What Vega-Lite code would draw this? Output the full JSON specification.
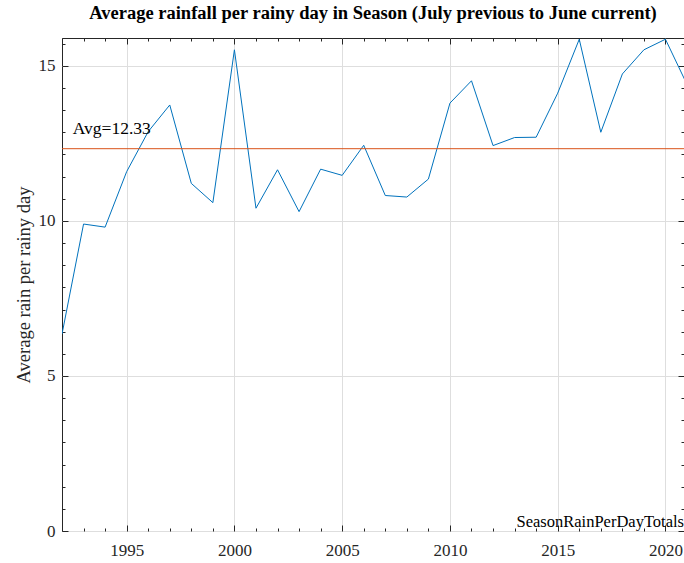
{
  "$schema": "https://vega.github.io/schema/vega-lite/v6.json",
  "autosize": "none",
  "width": 622,
  "height": 493,
  "padding": {"left": 62, "top": 38, "right": 0, "bottom": 32},
  "background": "white",
  "view": {"stroke": "#262626", "strokeWidth": 1},
  "config": {
    "font": "Liberation Serif",
    "axis": {"labelFont": "Liberation Serif", "titleFont": "Liberation Serif", "labelColor": "#262626", "titleColor": "#262626", "titleFontWeight": "normal"}
  },
  "title": {"text": "Average rainfall per rainy day in Season (July previous to June current)", "font": "Liberation Serif", "fontSize": 18.5, "fontWeight": "bold", "color": "#000000", "anchor": "middle", "offset": 12},
  "data": {"values": [
    {"year": 1992, "rain": 6.35},
    {"year": 1993, "rain": 9.90},
    {"year": 1994, "rain": 9.80},
    {"year": 1995, "rain": 11.59},
    {"year": 1996, "rain": 12.88},
    {"year": 1997, "rain": 13.74},
    {"year": 1998, "rain": 11.21},
    {"year": 1999, "rain": 10.59},
    {"year": 2000, "rain": 15.52},
    {"year": 2001, "rain": 10.41},
    {"year": 2002, "rain": 11.65},
    {"year": 2003, "rain": 10.30},
    {"year": 2004, "rain": 11.67},
    {"year": 2005, "rain": 11.47},
    {"year": 2006, "rain": 12.44},
    {"year": 2007, "rain": 10.82},
    {"year": 2008, "rain": 10.77},
    {"year": 2009, "rain": 11.35},
    {"year": 2010, "rain": 13.80},
    {"year": 2011, "rain": 14.52},
    {"year": 2012, "rain": 12.43},
    {"year": 2013, "rain": 12.69},
    {"year": 2014, "rain": 12.70},
    {"year": 2015, "rain": 14.12},
    {"year": 2016, "rain": 15.86},
    {"year": 2017, "rain": 12.86},
    {"year": 2018, "rain": 14.74},
    {"year": 2019, "rain": 15.52},
    {"year": 2020, "rain": 15.86},
    {"year": 2021, "rain": 14.40}
  ]},
  "resolve": {"axis": {"x": "independent", "y": "independent"}},
  "layer": [
    {
      "mark": {"type": "line", "color": "#0072BD", "strokeWidth": 1, "clip": true},
      "encoding": {
        "x": {"field": "year", "type": "quantitative",
          "scale": {"domain": [1992, 2020.86], "nice": false, "zero": false},
          "axis": {"orient": "bottom", "title": null, "domain": false,
            "values": [1992,1993,1994,1995,1996,1997,1998,1999,2000,2001,2002,2003,2004,2005,2006,2007,2008,2009,2010,2011,2012,2013,2014,2015,2016,2017,2018,2019,2020],
            "labelExpr": "datum.value % 5 === 0 ? datum.label : ''",
            "format": "d", "labelFontSize": 17, "labelPadding": 17, "labelFlush": false, "labelOverlap": false,
            "tickColor": "#262626", "tickWidth": 1,
            "tickSize": {"condition": {"test": "datum.value % 5 === 0", "value": -6}, "value": -3},
            "gridColor": "#dedede", "gridWidth": 1,
            "gridOpacity": {"condition": {"test": "datum.value % 5 === 0", "value": 1}, "value": 0}}},
        "y": {"field": "rain", "type": "quantitative",
          "scale": {"domain": [0, 15.9], "nice": false},
          "axis": {"orient": "left", "title": "Average rain per rainy day", "titleFontSize": 18.5, "titlePadding": 5, "domain": false,
            "values": [0, 0.7143, 1.4286, 2.1429, 2.8571, 3.5714, 4.2857, 5, 5.7143, 6.4286, 7.1429, 7.8571, 8.5714, 9.2857, 10, 10.7143, 11.4286, 12.1429, 12.8571, 13.5714, 14.2857, 15, 15.7143],
            "labelExpr": "datum.value % 5 === 0 ? format(datum.value, 'd') : ''",
            "labelFontSize": 17, "labelPadding": 13, "labelOverlap": false,
            "tickColor": "#262626", "tickWidth": 1,
            "tickSize": {"condition": {"test": "datum.value % 5 === 0", "value": -6}, "value": -3},
            "gridColor": "#dedede", "gridWidth": 1,
            "gridOpacity": {"condition": {"test": "datum.value % 5 === 0", "value": 1}, "value": 0}}}
      }
    },
    {
      "data": {"values": [{"avg": 12.33}]},
      "mark": {"type": "rule", "color": "#D95319", "strokeWidth": 1},
      "encoding": {
        "x": {"datum": 1992, "type": "quantitative",
          "axis": {"orient": "top", "title": null, "domain": false, "labels": false, "grid": false,
            "values": [1992,1993,1994,1995,1996,1997,1998,1999,2000,2001,2002,2003,2004,2005,2006,2007,2008,2009,2010,2011,2012,2013,2014,2015,2016,2017,2018,2019,2020],
            "tickColor": "#262626", "tickWidth": 1,
            "tickSize": {"condition": {"test": "datum.value % 5 === 0", "value": -6}, "value": -3}}},
        "x2": {"datum": 2020.86},
        "y": {"field": "avg", "type": "quantitative",
          "axis": {"orient": "right", "title": null, "domain": false, "labels": false, "grid": false,
            "values": [0, 0.7143, 1.4286, 2.1429, 2.8571, 3.5714, 4.2857, 5, 5.7143, 6.4286, 7.1429, 7.8571, 8.5714, 9.2857, 10, 10.7143, 11.4286, 12.1429, 12.8571, 13.5714, 14.2857, 15, 15.7143],
            "tickColor": "#262626", "tickWidth": 1,
            "tickSize": {"condition": {"test": "datum.value % 5 === 0", "value": -6}, "value": -3}}}
      }
    },
    {
      "data": {"values": [{"label": "Avg=12.33", "x": 1992.5, "y": 12.33}]},
      "mark": {"type": "text", "align": "left", "baseline": "alphabetic", "dy": -15, "fontSize": 17.5, "font": "Liberation Serif", "color": "#000000"},
      "encoding": {
        "text": {"field": "label"},
        "x": {"field": "x", "type": "quantitative", "axis": null},
        "y": {"field": "y", "type": "quantitative", "axis": null}
      }
    },
    {
      "data": {"values": [{"label": "SeasonRainPerDayTotals", "x": 2020.86, "y": 0}]},
      "mark": {"type": "text", "align": "right", "baseline": "alphabetic", "dy": -4, "fontSize": 16.5, "font": "Liberation Serif", "color": "#000000"},
      "encoding": {
        "text": {"field": "label"},
        "x": {"field": "x", "type": "quantitative", "axis": null},
        "y": {"field": "y", "type": "quantitative", "axis": null}
      }
    }
  ]
}
